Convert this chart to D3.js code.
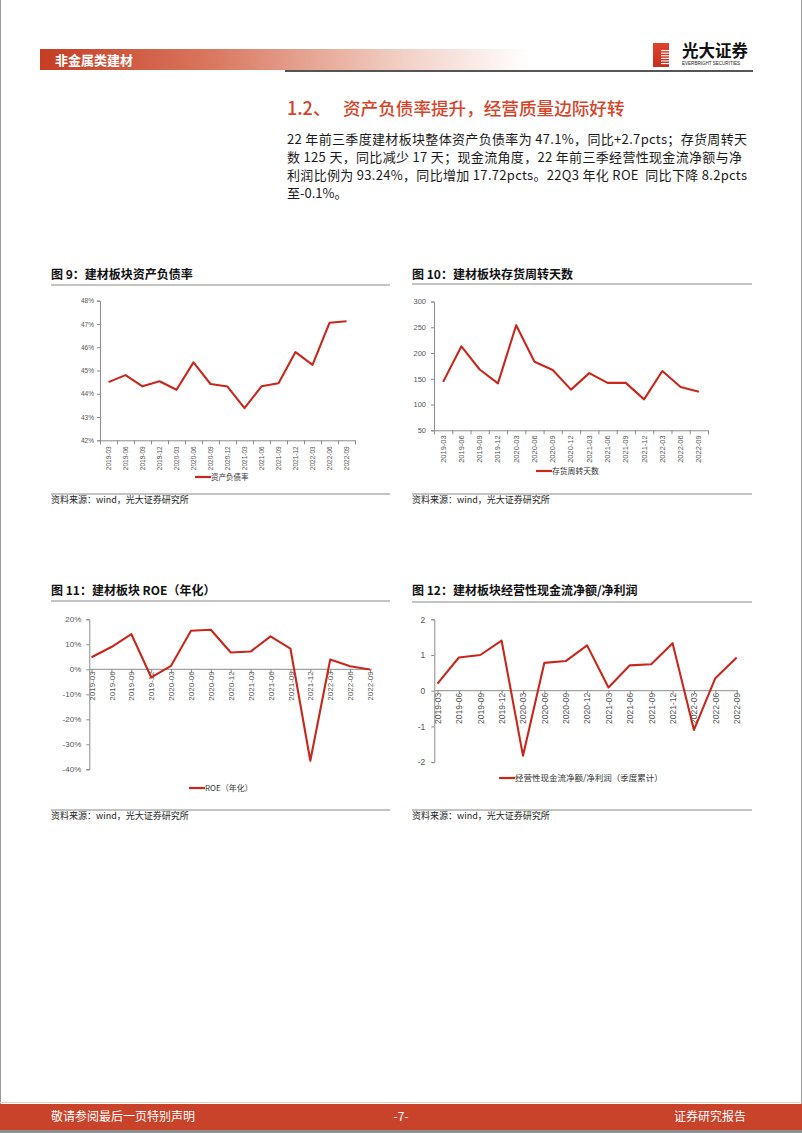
<!DOCTYPE html>
<html><head><meta charset="utf-8">
<script src="https://cdn.jsdelivr.net/npm/d3@7"></script>
<style>
html,body{margin:0;padding:0;background:#fff;}
svg{display:block;}
text{font-family:"Noto Sans CJK SC","Liberation Sans",sans-serif;}
.num{font-family:"Liberation Sans","DejaVu Sans",sans-serif;}
.pre{white-space:pre;}
</style></head>
<body>
<svg id="page" width="802" height="1133"></svg>
<script>
// ---------- data ----------
const quarters = ["2019-03","2019-06","2019-09","2019-12","2020-03","2020-06","2020-09","2020-12","2021-03","2021-06","2021-09","2021-12","2022-03","2022-06","2022-09"];
const debtRatio = [44.50,44.80,44.32,44.54,44.17,45.35,44.42,44.31,43.38,44.32,44.45,45.79,45.24,47.05,47.12];
const inventoryDays = [144,213,168,141,254,183,167,129,161,142,142,110,165,134,125];
const roe = [4.8,8.9,14.1,-3.2,1.4,15.4,15.8,6.7,7.1,13.2,8.3,-36.6,3.9,1.2,-0.1];
const cashRatio = [0.20,0.93,1.00,1.40,-1.82,0.78,0.83,1.27,0.09,0.71,0.74,1.33,-1.10,0.35,0.93];
const debtTicks = [42,43,44,45,46,47,48];
const inventoryTicks = [50,100,150,200,250,300];
const roeTicks = [-40,-30,-20,-10,0,10,20];
const cashTicks = [-2,-1,0,1,2];

const RED = "#C8281C";
const svg = d3.select("#page");

// ---------- page frame ----------
svg.append("line").attr("x1",0.5).attr("x2",0.5).attr("y1",0).attr("y2",1133).attr("stroke","#999");
svg.append("line").attr("x1",801.5).attr("x2",801.5).attr("y1",0).attr("y2",1133).attr("stroke","#999");

// header bar
const defs = svg.append("defs");
const g1 = defs.append("linearGradient").attr("id","hdr").attr("x1","0").attr("x2","1");
g1.append("stop").attr("offset","0").attr("stop-color","#C53D24");
g1.append("stop").attr("offset","0.35").attr("stop-color","#D9775F");
g1.append("stop").attr("offset","0.75").attr("stop-color","#F2D2C8");
g1.append("stop").attr("offset","1").attr("stop-color","#ffffff");
svg.append("rect").attr("x",40).attr("y",49).attr("width",490).attr("height",21).attr("fill","url(#hdr)");
svg.append("text").attr("x",55).attr("y",64.5).attr("fill","#fff").attr("font-size",13).attr("font-weight","bold").text("非金属类建材");
svg.append("rect").attr("x",285).attr("y",70).attr("width",468).attr("height",2).attr("fill","#555");

// logo
const g2 = defs.append("linearGradient").attr("id","logo").attr("x1","0").attr("x2","0").attr("y1","0").attr("y2","1");
g2.append("stop").attr("offset","0").attr("stop-color","#E0442C");
g2.append("stop").attr("offset","1").attr("stop-color","#C72D1E");
svg.append("rect").attr("x",653).attr("y",43).attr("width",16).attr("height",24).attr("fill","url(#logo)");
for(let i=0;i<6;i++){
  svg.append("rect").attr("x",661).attr("y",50+i*2.6).attr("width",8).attr("height",1.1).attr("fill","#fff");
}
svg.append("text").attr("x",682).attr("y",57).attr("font-size",16.5).attr("font-weight","bold").attr("fill","#111").text("光大证券");
svg.append("text").attr("x",682).attr("y",65).attr("font-size",4.6).attr("fill","#222").attr("class","num").attr("textLength",58).text("EVERBRIGHT SECURITIES");

// section title
svg.append("text").attr("x",287).attr("y",115).attr("font-size",18).attr("font-weight","500").attr("fill","#D6452A").text("1.2、");
svg.append("text").attr("x",343).attr("y",115).attr("font-size",17.6).attr("font-weight","500").attr("fill","#D6452A").text("资产负债率提升，经营质量边际好转");

// paragraph
const para = [
  ["22 年前三季度建材板块整体资产负债率为 47.1%，同比+2.7pcts；存货周转天", 460],
  ["数 125 天，同比减少 17 天；现金流角度，22 年前三季经营性现金流净额与净", 455],
  ["利润比例为 93.24%，同比增加 17.72pcts。22Q3 年化 ROE  同比下降 8.2pcts", 460],
  ["至-0.1%。", null]
];
para.forEach((p,i)=>{
  const t = svg.append("text").attr("class","pre").attr("x",287).attr("y",144+i*18).attr("font-size",13).attr("fill","#1a1a1a").text(p[0]);
  if(p[1]) t.attr("textLength",p[1]).attr("lengthAdjust","spacing");
});

// ---------- chart helper ----------
function frame(x0,x1,title,titleY,ruleY,srcRuleY,srcY){
  svg.append("text").attr("x",x0).attr("y",titleY).attr("font-size",12).attr("font-weight","bold").attr("fill","#111").text(title);
  svg.append("line").attr("x1",x0).attr("x2",x1).attr("y1",ruleY).attr("y2",ruleY).attr("stroke","#888").attr("stroke-width",1);
  svg.append("line").attr("x1",x0).attr("x2",x1).attr("y1",srcRuleY).attr("y2",srcRuleY).attr("stroke","#888").attr("stroke-width",1);
  svg.append("text").attr("x",x0).attr("y",srcY).attr("font-size",9).attr("fill","#222").text("资料来源：wind，光大证券研究所");
}
function legend(x,y,label,fs){
  svg.append("line").attr("x1",x).attr("x2",x+16).attr("y1",y).attr("y2",y).attr("stroke",RED).attr("stroke-width",2.2);
  svg.append("text").attr("x",x+16).attr("y",y).attr("dy","0.35em").attr("font-size",fs).attr("fill","#333").text(label);
}
function styleAxis(g,fs){
  g.selectAll(".domain").attr("stroke","#8c8c8c");
  g.selectAll(".tick line").attr("stroke","#8c8c8c");
  g.selectAll("text").attr("font-size",fs).attr("fill","#555").attr("class","num").attr("font-family","Liberation Sans, DejaVu Sans, sans-serif");
}

// band-type chart (fig 9 and 10)
function bandChart(o){
  const x = d3.scaleBand().domain(quarters).range([o.xl,o.xr]).padding(0);
  const xi = d3.scaleLinear().domain([0,quarters.length]).range([o.xl,o.xr]);
  const y = d3.scaleLinear().domain(o.yDomain).range([o.yb,o.yt]);
  const ya = svg.append("g").attr("transform",`translate(${o.xl},0)`)
    .call(d3.axisLeft(y).tickValues(o.ticks).tickSize(3).tickPadding(o.ypad).tickFormat(o.fmt));
  styleAxis(ya,o.yfs);
  const xa = svg.append("g").attr("transform",`translate(0,${o.yb})`)
    .call(d3.axisBottom(xi).tickValues(d3.range(quarters.length+1)).tickSize(4).tickFormat(""));
  styleAxis(xa,o.xfs);
  const xl = svg.append("g").attr("transform",`translate(0,${o.yb})`)
    .call(d3.axisBottom(x).tickSize(0));
  xl.select(".domain").remove();
  styleAxis(xl,o.xfs);
  xl.selectAll("text").attr("transform","rotate(-90)").attr("text-anchor","end")
    .attr("x",-o.xgap).attr("y",0).attr("dy","0.33em");
  const line = d3.line().x((d,i)=>x(quarters[i])+x.bandwidth()/2).y(d=>y(d));
  svg.append("path").datum(o.data).attr("d",line).attr("fill","none").attr("stroke",RED).attr("stroke-width",2.1).attr("stroke-linejoin","round");
}
// point-type chart (fig 11 and 12)
function pointChart(o){
  const x = d3.scalePoint().domain(quarters).range([o.px0,o.px1]);
  const y = d3.scaleLinear().domain(o.yDomain).range([o.yb,o.yt]);
  const ya = svg.append("g").attr("transform",`translate(${o.ax},0)`)
    .call(d3.axisLeft(y).tickValues(o.ticks).tickSize(3).tickPadding(o.ypad).tickFormat(o.fmt));
  styleAxis(ya,o.yfs);
  const xa = svg.append("g").attr("transform",`translate(0,${y(0)})`)
    .call(d3.axisBottom(x).tickSize(3).tickSizeOuter(0));
  xa.select(".domain").attr("d",`M${o.ax},0H${o.axr}`);
  styleAxis(xa,o.xfs);
  xa.selectAll("text").attr("transform","rotate(-90)").attr("text-anchor","end")
    .attr("x",-o.xgap).attr("y",0).attr("dy","0.33em");
  const line = d3.line().x((d,i)=>x(quarters[i])).y(d=>y(d));
  svg.append("path").datum(o.data).attr("d",line).attr("fill","none").attr("stroke",RED).attr("stroke-width",2.1).attr("stroke-linejoin","round");
}

// ---------- Fig 9 ----------
frame(51,390,"图 9：建材板块资产负债率",279,285,494,503);
bandChart({xl:100,xr:355,yt:300.7,yb:440.3,yDomain:[42,48],ticks:debtTicks,fmt:d=>d+"%",data:debtRatio,yfs:6.5,xfs:6.5,ypad:3,xgap:6});
legend(195,477,"资产负债率",7.5);

// ---------- Fig 10 ----------
frame(412,752,"图 10：建材板块存货周转天数",279,284,494,503);
bandChart({xl:434,xr:708,yt:301.5,yb:430.3,yDomain:[50,300],ticks:inventoryTicks,fmt:d=>d,data:inventoryDays,yfs:7.5,xfs:7.5,ypad:5,xgap:5});
legend(536,471,"存货周转天数",7.8);

// ---------- Fig 11 ----------
frame(51,390,"图 11：建材板块 ROE（年化）",595,601,810,819);
pointChart({px0:91.5,px1:370,ax:89.3,axr:372,yt:619.3,yb:769.3,yDomain:[-40,20],ticks:roeTicks,fmt:d=>d+"%",data:roe,yfs:8,xfs:8,ypad:5,xgap:2});
legend(189,788,"ROE（年化）",8);

// ---------- Fig 12 ----------
frame(412,752,"图 12：建材板块经营性现金流净额/净利润",595,602,810,819);
pointChart({px0:437.5,px1:736.7,ax:434.3,axr:738,yt:619.3,yb:762.1,yDomain:[-2,2],ticks:cashTicks,fmt:d=>d,data:cashRatio,yfs:8.5,xfs:8.5,ypad:6,xgap:2});
legend(499,778,"经营性现金流净额/净利润（季度累计）",8.5);

// ---------- footer ----------
svg.append("line").attr("x1",0).attr("x2",802).attr("y1",1102.5).attr("y2",1102.5).attr("stroke","#F0C8BE");
svg.append("rect").attr("x",0).attr("y",1104).attr("width",802).attr("height",26).attr("fill","#C8432A");
svg.append("rect").attr("x",0).attr("y",1130).attr("width",802).attr("height",3).attr("fill","#8E8E8E");
svg.append("text").attr("x",51).attr("y",1121).attr("font-size",12).attr("fill","#fff").text("敬请参阅最后一页特别声明");
svg.append("text").attr("x",401).attr("y",1121).attr("text-anchor","middle").attr("font-size",12).attr("fill","#fff").text("-7-");
svg.append("text").attr("x",746).attr("y",1121).attr("text-anchor","end").attr("font-size",12).attr("fill","#fff").text("证券研究报告");
</script>
</body></html>
